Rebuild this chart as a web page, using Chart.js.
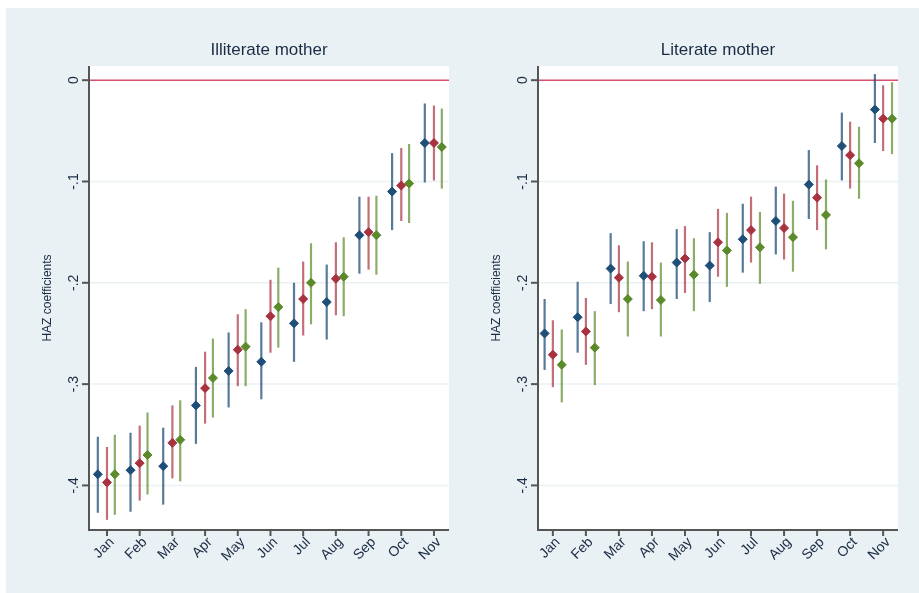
<!DOCTYPE html>
<html>
<head>
<meta charset="utf-8">
<script src="https://cdn.jsdelivr.net/npm/chart.js@4"></script>
<style>
  body { margin: 0; background: #fff; }
  #wrap { position: absolute; left: 6px; top: 8px; width: 913px; height: 585px; background: #e9f1f4; }
  canvas { position: absolute; top: 0; }
</style>
</head>
<body>
<div id="wrap"></div>
<canvas id="c1" style="left:0;position:absolute" width="460" height="593"></canvas>
<canvas id="c2" style="left:460px;position:absolute" width="459" height="593"></canvas>
<script>
const months = ["Jan","Feb","Mar","Apr","May","Jun","Jul","Aug","Sep","Oct","Nov"];
const yTicks = [0, -0.1, -0.2, -0.3, -0.4];
const yTickLabels = ["0", "-.1", "-.2", "-.3", "-.4"];

// Illiterate mother: estimate, lower, upper
const illBlue   = [-.389,-.385,-.381,-.321,-.287,-.278,-.240,-.219,-.153,-.110,-.062];
const illBlueLo = [-.427,-.426,-.419,-.359,-.323,-.315,-.278,-.256,-.191,-.148,-.101];
const illBlueHi = [-.352,-.348,-.343,-.283,-.249,-.239,-.200,-.182,-.115,-.072,-.023];
const illRed    = [-.397,-.378,-.358,-.304,-.266,-.233,-.216,-.196,-.150,-.104,-.062];
const illRedLo  = [-.434,-.415,-.393,-.339,-.302,-.269,-.252,-.232,-.187,-.139,-.099];
const illRedHi  = [-.362,-.341,-.321,-.268,-.231,-.197,-.179,-.160,-.115,-.067,-.025];
const illGreen  = [-.389,-.370,-.355,-.294,-.263,-.224,-.200,-.194,-.153,-.102,-.066];
const illGreenLo= [-.429,-.409,-.396,-.333,-.302,-.264,-.241,-.233,-.192,-.141,-.107];
const illGreenHi= [-.350,-.328,-.316,-.255,-.226,-.185,-.161,-.155,-.114,-.063,-.028];

// Literate mother
const litBlue   = [-.250,-.234,-.186,-.193,-.180,-.183,-.157,-.139,-.103,-.065,-.029];
const litBlueLo = [-.286,-.269,-.221,-.228,-.216,-.219,-.190,-.172,-.137,-.099,-.062];
const litBlueHi = [-.216,-.199,-.151,-.159,-.147,-.150,-.122,-.105,-.069,-.032, .006];
const litRed    = [-.271,-.248,-.195,-.194,-.176,-.160,-.148,-.146,-.116,-.074,-.038];
const litRedLo  = [-.303,-.281,-.229,-.226,-.210,-.194,-.180,-.177,-.148,-.107,-.070];
const litRedHi  = [-.237,-.215,-.163,-.160,-.144,-.127,-.115,-.112,-.084,-.041,-.005];
const litGreen  = [-.281,-.264,-.216,-.217,-.192,-.168,-.165,-.155,-.133,-.082,-.038];
const litGreenLo= [-.318,-.301,-.253,-.253,-.228,-.204,-.201,-.189,-.167,-.117,-.073];
const litGreenHi= [-.246,-.228,-.179,-.180,-.156,-.131,-.130,-.119,-.098,-.046,-.002];

const colors = ["#1f4e79", "#a83240", "#5a8a2a"];
const barColors = ["rgba(31,78,121,0.75)", "rgba(168,50,64,0.7)", "rgba(90,138,42,0.7)"];
const textCol = "#1c2b45";

function makeChart(id, title, series, offsets, xmin, xmax, pad) {
  const datasets = series.map((s, k) => ({
    data: s.est.map((v, i) => ({x: i + offsets[k], y: v, lo: s.lo[i], hi: s.hi[i]})),
    pointStyle: 'rectRot', pointRadius: 4.5,
    backgroundColor: colors[k], borderColor: colors[k], showLine: false
  }));
  const overlay = {
    id: 'overlay',
    beforeDatasetsDraw(chart) {
      const ctx = chart.ctx, xs = chart.scales.x, ys = chart.scales.y, a = chart.chartArea;
      ctx.save();
      // faint grid
      ctx.strokeStyle = "#eaf1f1"; ctx.lineWidth = 1.5;
      yTicks.forEach(t => { const y = ys.getPixelForValue(t); ctx.beginPath(); ctx.moveTo(a.left, y); ctx.lineTo(a.right, y); ctx.stroke(); });
      // zero line
      ctx.strokeStyle = "#d9506e"; ctx.lineWidth = 1.5;
      const y0 = ys.getPixelForValue(0);
      ctx.beginPath(); ctx.moveTo(a.left, y0); ctx.lineTo(a.right, y0); ctx.stroke();
      // error bars
      chart.data.datasets.forEach((ds, k) => {
        ctx.strokeStyle = barColors[k]; ctx.lineWidth = 2.2;
        ds.data.forEach(p => {
          const x = xs.getPixelForValue(p.x);
          ctx.beginPath(); ctx.moveTo(x, ys.getPixelForValue(p.lo)); ctx.lineTo(x, ys.getPixelForValue(p.hi)); ctx.stroke();
        });
      });
      ctx.restore();
    },
    afterDraw(chart) {
      const ctx = chart.ctx, xs = chart.scales.x, ys = chart.scales.y, a = chart.chartArea;
      ctx.save();
      ctx.strokeStyle = "#555"; ctx.lineWidth = 2;
      ctx.beginPath(); ctx.moveTo(a.left, a.top); ctx.lineTo(a.left, a.bottom); ctx.lineTo(a.right, a.bottom); ctx.stroke();
      ctx.fillStyle = textCol;
      ctx.font = "14px 'Liberation Sans', Arial";
      yTicks.forEach((t, i) => {
        const y = ys.getPixelForValue(t);
        ctx.beginPath(); ctx.moveTo(a.left - 7, y); ctx.lineTo(a.left, y); ctx.stroke();
        ctx.save(); ctx.translate(a.left - 15, y); ctx.rotate(-Math.PI / 2);
        ctx.textAlign = "center"; ctx.textBaseline = "middle"; ctx.fillText(yTickLabels[i], 0, 0); ctx.restore();
      });
      months.forEach((m, i) => {
        const x = xs.getPixelForValue(i);
        ctx.beginPath(); ctx.moveTo(x, a.bottom); ctx.lineTo(x, a.bottom + 6); ctx.stroke();
        ctx.save(); ctx.translate(x + 5, a.bottom + 10); ctx.rotate(-Math.PI / 4);
        ctx.textAlign = "right"; ctx.textBaseline = "middle"; ctx.fillText(m, 0, 0); ctx.restore();
      });
      ctx.font = "12px 'Liberation Sans', Arial";
      ctx.save(); ctx.translate(a.left - 41, (a.top + a.bottom) / 2); ctx.rotate(-Math.PI / 2);
      ctx.textAlign = "center"; ctx.textBaseline = "middle"; ctx.fillText("HAZ coefficients", 0, 0); ctx.restore();
      ctx.font = "17px 'Liberation Sans', Arial";
      ctx.textAlign = "center"; ctx.textBaseline = "middle";
      ctx.fillText(title, (a.left + a.right) / 2, 50);
      ctx.restore();
    }
  };
  const whiteArea = {
    id: 'whiteArea',
    beforeDraw(chart) { const a = chart.chartArea; chart.ctx.fillStyle = "#fff"; chart.ctx.fillRect(a.left, a.top, a.right - a.left, a.bottom - a.top); }
  };
  new Chart(document.getElementById(id), {
    type: 'scatter',
    data: { datasets },
    options: {
      responsive: false, animation: false,
      layout: { padding: pad },
      plugins: { legend: { display: false }, tooltip: { enabled: false } },
      scales: {
        x: { type: 'linear', min: xmin, max: xmax, display: true, grid: { display: false }, border: { display: false },
             ticks: { display: false }, afterFit: s => { s.height = 0; } },
        y: { min: -0.444, max: 0.014, display: true, grid: { display: false }, border: { display: false },
             ticks: { display: false }, afterFit: s => { s.width = 0; } }
      }
    },
    plugins: [whiteArea, overlay]
  });
}

makeChart("c1", "Illiterate mother",
  [{est: illBlue, lo: illBlueLo, hi: illBlueHi}, {est: illRed, lo: illRedLo, hi: illRedHi}, {est: illGreen, lo: illGreenLo, hi: illGreenHi}],
  [-0.28, 0, 0.24], -0.55, 10.46, {left: 89, right: 11, top: 66, bottom: 63});
makeChart("c2", "Literate mother",
  [{est: litBlue, lo: litBlueLo, hi: litBlueHi}, {est: litRed, lo: litRedLo, hi: litRedHi}, {est: litGreen, lo: litGreenLo, hi: litGreenHi}],
  [-0.25, 0, 0.27], -0.45, 10.45, {left: 78, right: 21, top: 66, bottom: 63});
</script>
</body>
</html>
